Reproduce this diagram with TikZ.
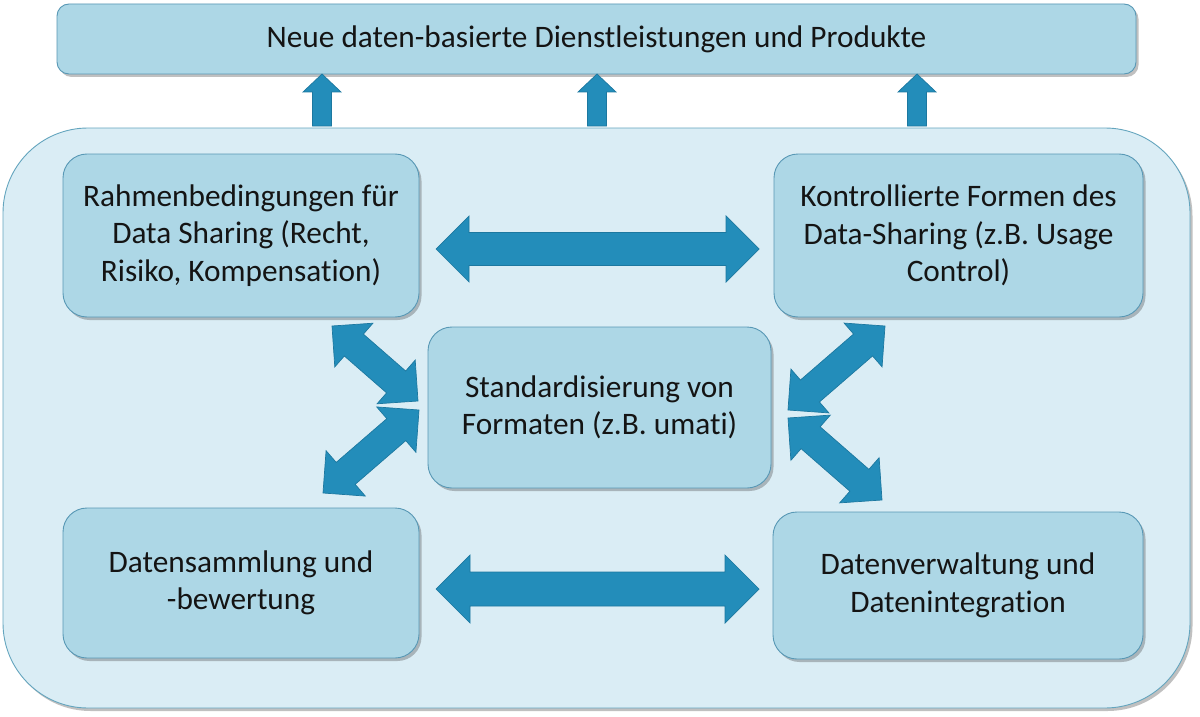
\documentclass[tikz,border=0pt]{standalone}
\usepackage{fontspec}
\setmainfont{Carlito}[Ligatures=NoCommon]
\usetikzlibrary{calc,shadows}
\definecolor{boxfill}{RGB}{173,215,230}
\definecolor{boxline}{RGB}{88,152,181}
\definecolor{bgfill}{RGB}{218,237,245}
\definecolor{bgline}{RGB}{100,165,190}
\definecolor{arrfill}{RGB}{35,141,186}
\definecolor{arrline}{RGB}{28,120,160}
\tikzset{
  arrowstyle/.style={fill=arrfill, draw=arrline, line width=0.7pt, line join=miter},
  myshadow/.style={drop shadow={shadow xshift=2.5pt, shadow yshift=-3pt, opacity=0.35, fill=black!70}},
  box/.style={rectangle, rounded corners=24pt, fill=boxfill, draw=boxline, line width=0.9pt,
    align=center, inner sep=0pt, text=black!92, font=\fontsize{31.3}{37.5}\selectfont, myshadow},
  banner/.style={box, rounded corners=12pt},
  bgbox/.style={rectangle, rounded corners=85pt, fill=bgfill, draw=bgline, line width=0.9pt, myshadow}
}
% double arrow: A, B, shaft half width, head half width, head length
\newcommand\DArrow[5]{%
  \filldraw[arrowstyle] (#1) -- ($(#1)!#5!(#2)!#4!90:(#2)$) -- ($(#1)!#5!(#2)!#3!90:(#2)$)
   -- ($(#2)!#5!(#1)!#3!-90:(#1)$) -- ($(#2)!#5!(#1)!#4!-90:(#1)$) -- (#2)
   -- ($(#2)!#5!(#1)!#4!90:(#1)$) -- ($(#2)!#5!(#1)!#3!90:(#1)$)
   -- ($(#1)!#5!(#2)!#3!-90:(#2)$) -- ($(#1)!#5!(#2)!#4!-90:(#2)$) -- cycle;}
% single arrow from A to B
\newcommand\UArrow[5]{%
  \filldraw[arrowstyle] ($(#1)!#3!90:(#2)$) -- ($(#2)!#5!(#1)!#3!-90:(#1)$)
   -- ($(#2)!#5!(#1)!#4!-90:(#1)$) -- (#2) -- ($(#2)!#5!(#1)!#4!90:(#1)$)
   -- ($(#2)!#5!(#1)!#3!90:(#1)$) -- ($(#1)!#3!-90:(#2)$) -- cycle;}
\begin{document}
\begin{tikzpicture}[x=1pt,y=-1pt]
\useasboundingbox (0,0) rectangle (1200,717);
\fill[white] (0,0) rectangle (1200,717);

\node[bgbox, minimum width=1187pt, minimum height=580pt] (bg) at (596.5,418) {};
\node[banner, minimum width=1079pt, minimum height=70pt] (top) at (596.5,39)
  {Neue daten-basierte Dienstleistungen und Produkte};

% up arrows
\coordinate (u1a) at (322,126); \coordinate (u1b) at (322,74);
\coordinate (u2a) at (597,126); \coordinate (u2b) at (597,74);
\coordinate (u3a) at (917,126); \coordinate (u3b) at (917,74);
\UArrow{u1a}{u1b}{9.5pt}{19pt}{18pt}
\UArrow{u2a}{u2b}{9.5pt}{19pt}{18pt}
\UArrow{u3a}{u3b}{9.5pt}{19pt}{18pt}

\node[box, minimum width=356pt, minimum height=163pt] (tl) at (241,235.5)
  {Rahmenbedingungen für\\Data Sharing (Recht,\\Risiko, Kompensation)};
\node[box, minimum width=369pt, minimum height=163pt] (tr) at (958.5,235.5)
  {Kontrollierte Formen des\\Data-Sharing (z.B. Usage\\Control)};
\node[box, minimum width=343pt, minimum height=161pt] (c) at (599.5,407.5)
  {Standardisierung von\\Formaten (z.B. umati)};
\node[box, minimum width=356pt, minimum height=150pt] (bl) at (241,583)
  {Datensammlung und\\-bewertung};
\node[box, minimum width=370pt, minimum height=147pt] (br) at (958,585.5)
  {Datenverwaltung und\\Datenintegration};

% arrow end points
\coordinate (h1a) at (436,249); \coordinate (h1b) at (759,249);
\coordinate (h2a) at (436,589); \coordinate (h2b) at (759,589);
\coordinate (d1a) at (332,326); \coordinate (d1b) at (418,401);
\coordinate (d2a) at (419,410); \coordinate (d2b) at (323,493);
\coordinate (d3a) at (885,326); \coordinate (d3b) at (788,410);
\coordinate (d4a) at (788,418); \coordinate (d4b) at (882,500);

\DArrow{h1a}{h1b}{16.5pt}{33pt}{33pt}
\DArrow{h2a}{h2b}{17pt}{34pt}{34pt}
\DArrow{d1a}{d1b}{14.5pt}{29pt}{29pt}
\DArrow{d2a}{d2b}{14.5pt}{30pt}{30pt}
\DArrow{d3a}{d3b}{14.5pt}{29pt}{29pt}
\DArrow{d4a}{d4b}{14.5pt}{30pt}{30pt}
\end{tikzpicture}
\end{document}
